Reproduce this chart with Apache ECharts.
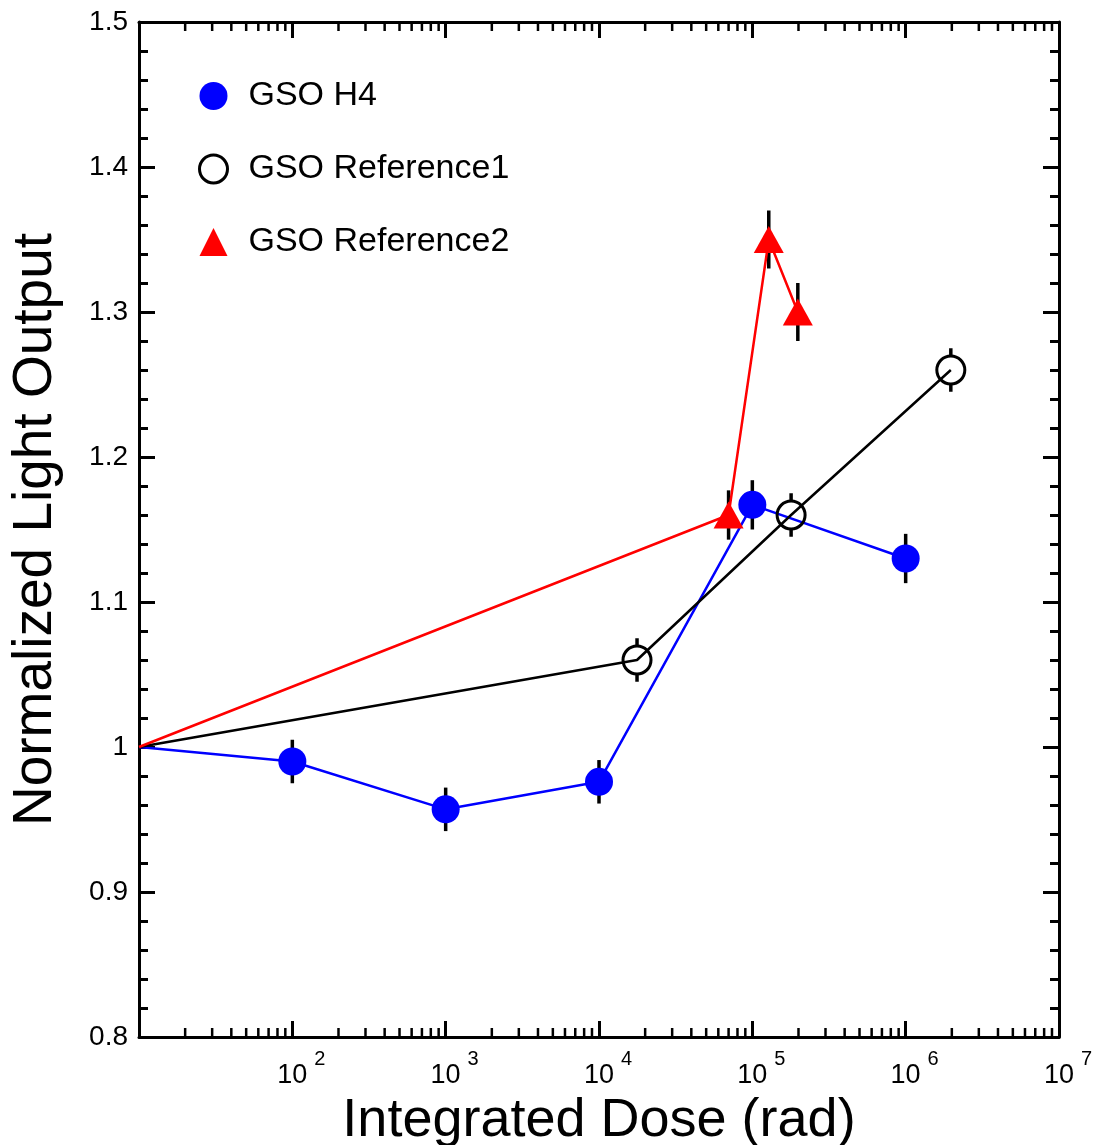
<!DOCTYPE html>
<html>
<head>
<meta charset="utf-8">
<script src="https://cdn.jsdelivr.net/npm/echarts@6/dist/echarts.min.js"></script>
<style>
html,body{margin:0;padding:0;background:#fff;}
#chart{width:1096px;height:1145px;}
</style>
</head>
<body>
<div id="chart"></div>
<script>
// ---- data ----
const seriesNames = ['GSO H4', 'GSO Reference1', 'GSO Reference2'];
const h4Dose = [10, 100, 1000, 10000, 100000, 1000000];
const h4Light = [1.0, 0.99, 0.957, 0.976, 1.167, 1.13];
const h4Err = [0, 0.015, 0.015, 0.015, 0.017, 0.017];
const ref1Dose = [10, 17700, 179000, 1970000];
const ref1Light = [1.0, 1.06, 1.16, 1.26];
const ref1Err = [0, 0.015, 0.015, 0.015];
const ref2Dose = [10, 70000, 128000, 198000];
const ref2Light = [1.0, 1.16, 1.35, 1.30];
const ref2Err = [0, 0.017, 0.02, 0.02];
const yTicks = [0.8, 0.9, 1.0, 1.1, 1.2, 1.3, 1.4, 1.5];
const xMin = 10, xMax = 1e7;
const minorMultipliers = [2, 3, 4, 5, 6, 7, 8, 9];
const decades = [10, 100, 1000, 10000, 100000, 1000000];

const FONT = '"Liberation Sans", Arial, sans-serif';

function pts(xs, ys) {
  return xs.map((x, i) => {
    const d = { value: [x, ys[i]] };
    if (i === 0) d.symbol = 'none';
    return d;
  });
}
function errs(xs, ys, es, r) {
  const out = [];
  xs.forEach((x, i) => { if (es[i] > 0) out.push([x, ys[i], es[i], r]); });
  return out;
}
const minorTickVals = [];
decades.forEach(d => minorMultipliers.forEach(m => minorTickVals.push([d * m, 1])));

function errRender(params, api) {
  const x = api.value(0), y = api.value(1), e = api.value(2), r = api.value(3);
  const c = api.coord([x, y]);
  const top = api.coord([x, y + e]);
  const bot = api.coord([x, y - e]);
  const style = { stroke: '#000', lineWidth: 3.5 };
  return {
    type: 'group',
    children: [
      { type: 'line', shape: { x1: c[0], y1: top[1], x2: c[0], y2: c[1] - r }, style },
      { type: 'line', shape: { x1: c[0], y1: c[1] + r, x2: c[0], y2: bot[1] }, style }
    ]
  };
}
function minorRender(params, api) {
  const cs = params.coordSys;
  const p = api.coord([api.value(0), api.value(1)]);
  const style = { stroke: '#000', lineWidth: 2.5 };
  return {
    type: 'group',
    children: [
      { type: 'line', shape: { x1: p[0], y1: cs.y + cs.height, x2: p[0], y2: cs.y + cs.height - 9 }, style },
      { type: 'line', shape: { x1: p[0], y1: cs.y, x2: p[0], y2: cs.y + 9 }, style }
    ]
  };
}

const axisLine = { show: true, onZero: false, lineStyle: { color: '#000', width: 3 } };

const chart = echarts.init(document.getElementById('chart'), null, { renderer: 'canvas' });
chart.setOption({
  animation: false,
  backgroundColor: '#fff',
  grid: { left: 139, right: 37, top: 22, bottom: 108, containLabel: false, outerBoundsMode: 'none' },
  legend: {
    orient: 'vertical', left: 193, top: 74,
    itemWidth: 28, itemHeight: 28, itemGap: 39,
    selectedMode: false,
    textStyle: { fontFamily: FONT, fontSize: 34, color: '#000', padding: [0, 0, 0, 16] },
    data: [
      { name: seriesNames[0], icon: 'circle', itemStyle: { color: '#0000ff' } },
      { name: seriesNames[1], icon: 'circle', itemStyle: { color: '#fff', borderColor: '#000', borderWidth: 3 } },
      { name: seriesNames[2], icon: 'triangle', itemStyle: { color: '#ff0000' } }
    ]
  },
  xAxis: [
    {
      type: 'log', logBase: 10, min: xMin, max: xMax, position: 'bottom',
      axisLine,
      axisTick: { show: true, inside: true, length: 16, lineStyle: { color: '#000', width: 3 } },
      splitLine: { show: false },
      axisLabel: {
        margin: 12, color: '#000',
        formatter: function (v) {
          const e = Math.round(Math.log10(v));
          if (e <= 1) return '';
          return '{sp|}{b|10}{sup|' + e + '}';
        },
        rich: {
          sp: { width: 18 },
          b: { fontFamily: FONT, fontSize: 27, lineHeight: 40, verticalAlign: 'bottom', color: '#000' },
          sup: { fontFamily: FONT, fontSize: 20, lineHeight: 20, verticalAlign: 'top', padding: [0, 0, 0, 7], color: '#000' }
        }
      },
      name: 'Integrated Dose (rad)', nameLocation: 'middle', nameGap: 27,
      nameTextStyle: { fontFamily: FONT, fontSize: 54, color: '#000' }
    },
    {
      type: 'log', logBase: 10, min: xMin, max: xMax, position: 'top',
      axisLine,
      axisTick: { show: true, inside: true, length: 16, lineStyle: { color: '#000', width: 3 } },
      axisLabel: { show: false }, splitLine: { show: false }
    }
  ],
  yAxis: [
    {
      type: 'value', min: yTicks[0], max: yTicks[yTicks.length - 1], interval: 0.1, position: 'left',
      axisLine,
      axisTick: { show: true, inside: true, length: 16, lineStyle: { color: '#000', width: 3 } },
      minorTick: { show: true, splitNumber: 5, length: 9, lineStyle: { color: '#000', width: 3 } },
      splitLine: { show: false },
      axisLabel: { margin: 11, fontFamily: FONT, fontSize: 28, color: '#000',
        formatter: v => String(Math.round(v * 10) / 10) },
      name: 'Normalized Light Output', nameLocation: 'middle', nameGap: 76,
      nameTextStyle: { fontFamily: FONT, fontSize: 55, color: '#000' }
    },
    {
      type: 'value', min: yTicks[0], max: yTicks[yTicks.length - 1], interval: 0.1, position: 'right',
      axisLine,
      axisTick: { show: true, inside: true, length: 16, lineStyle: { color: '#000', width: 3 } },
      minorTick: { show: true, splitNumber: 5, length: 9, lineStyle: { color: '#000', width: 3 } },
      splitLine: { show: false }, axisLabel: { show: false }
    }
  ],
  series: [
    {
      type: 'custom', name: 'minor', renderItem: minorRender, data: minorTickVals,
      silent: true, z: 1, clip: false
    },
    {
      type: 'custom', name: 'errH4', renderItem: errRender, data: errs(h4Dose, h4Light, h4Err, 0), z: 2
    },
    {
      type: 'custom', name: 'errR1', renderItem: errRender, data: errs(ref1Dose, ref1Light, ref1Err, 15), z: 2
    },
    {
      type: 'custom', name: 'errR2', renderItem: errRender, data: errs(ref2Dose, ref2Light, ref2Err, 0), z: 2
    },
    {
      name: seriesNames[0], type: 'line', data: pts(h4Dose, h4Light), z: 3,
      symbol: 'circle', symbolSize: 28,
      lineStyle: { color: '#0000ff', width: 2.5 },
      itemStyle: { color: '#0000ff' }
    },
    {
      name: seriesNames[1], type: 'line', data: pts(ref1Dose, ref1Light), z: 4,
      symbol: 'circle', symbolSize: 28,
      lineStyle: { color: '#000', width: 2.5 },
      itemStyle: { color: 'rgba(255,255,255,0)', borderColor: '#000', borderWidth: 3 }
    },
    {
      name: seriesNames[2], type: 'line', data: pts(ref2Dose, ref2Light), z: 5,
      symbol: 'triangle', symbolSize: [30, 27],
      lineStyle: { color: '#ff0000', width: 2.5 },
      itemStyle: { color: '#ff0000' }
    }
  ]
});
</script>
</body>
</html>
